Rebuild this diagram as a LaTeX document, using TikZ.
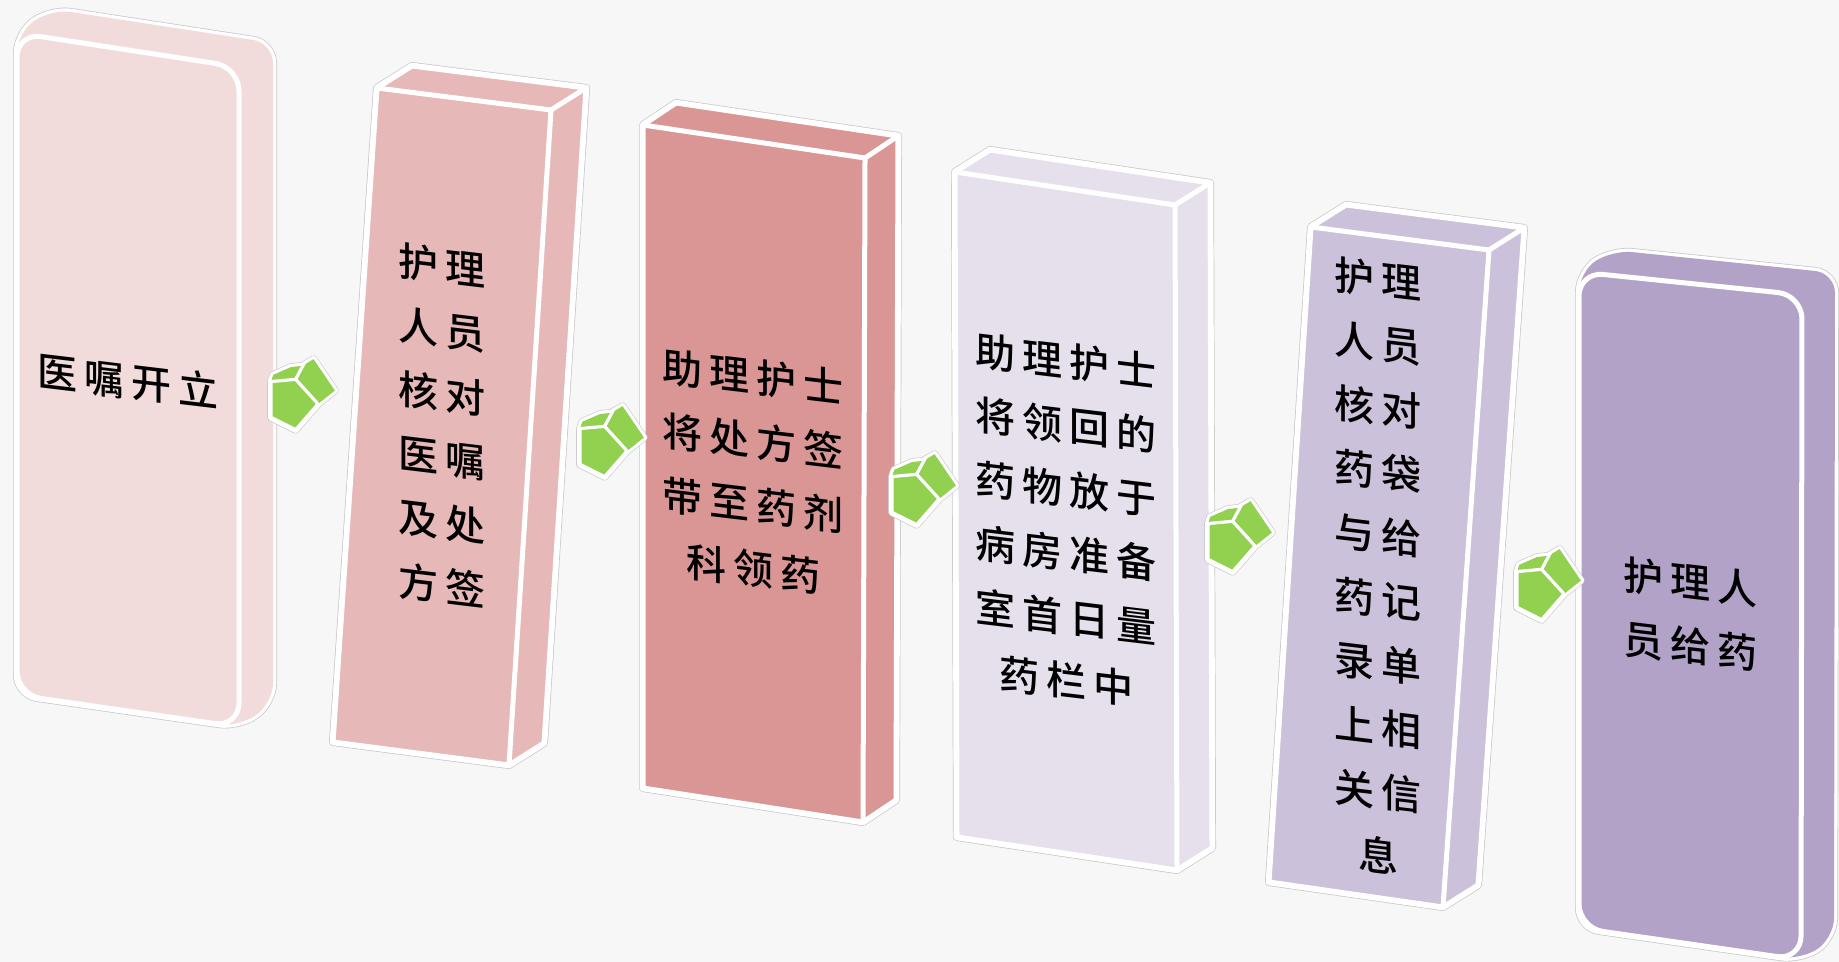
\documentclass[tikz,border=0pt]{standalone}
\usepackage{fontspec}
\usetikzlibrary{calc}
\newfontfamily\cjk{Noto Sans CJK SC Medium}
\definecolor{bg}{HTML}{F7F7F7}
\definecolor{c1}{HTML}{F2DCDB}
\definecolor{c2}{HTML}{E6B9B8}
\definecolor{c3}{HTML}{D99694}
\definecolor{c4}{HTML}{E5E0EC}
\definecolor{c5}{HTML}{CCC1DA}
\definecolor{c6}{HTML}{B3A2C7}
\definecolor{grn}{HTML}{92D050}
\newcommand\ks{\hspace{3.5pt}}
% name, colour, TL, TR, BR, BL, depth
\newcommand\pbox[7]{%
  \coordinate (#1a) at (#3); \coordinate (#1b) at (#4);
  \coordinate (#1c) at (#5); \coordinate (#1d) at (#6);
  \coordinate (#1e) at ($(#3)+(#7)$); \coordinate (#1f) at ($(#4)+(#7)$);
  \coordinate (#1g) at ($(#5)+(#7)$);
  \path[haloA] (#1a)--(#1e)--(#1f)--(#1g)--(#1c)--(#1d)--cycle;
  \path[haloB] (#1a)--(#1e)--(#1f)--(#1g)--(#1c)--(#1d)--cycle;
  \fill[#2] (#1a)--(#1e)--(#1f)--(#1g)--(#1c)--(#1d)--cycle;
  \draw[edge] (#1a)--(#1b)--(#1c)--(#1d)--cycle;
  \draw[edge] (#1a)--(#1e)--(#1f)--(#1g)--(#1c);
  \draw[edge] (#1b)--(#1f);
}
\tikzset{
  haloA/.style={draw=gray!45, line width=4pt, line join=round},
  haloB/.style={draw=white, line width=3.3pt, line join=round},
  edge/.style={draw=white, line width=2.5pt, line join=round, line cap=round},
  lbl/.style={font=\cjk\fontsize{20pt}{32pt}\selectfont, align=center,
    text=black, inner sep=0pt, yslant=-0.12},
  garrow/.pic={
    \path[draw=gray!45, line width=3.8pt, line join=round]
      (-25,-12)--(-23,-18)--(-7,-25)--(3,-26)--(13,-32)--(32,-4)--(17,8)--(-3,31)--(-25,20)--cycle;
    \path[draw=white, line width=3.2pt, line join=round]
      (-25,-12)--(-23,-18)--(-7,-25)--(3,-26)--(13,-32)--(32,-4)--(17,8)--(-3,31)--(-25,20)--cycle;
    \fill[grn]
      (-25,-12)--(-23,-18)--(-7,-25)--(3,-26)--(13,-32)--(32,-4)--(17,8)--(-3,31)--(-25,20)--cycle;
    \draw[white, line width=1.6pt, line join=round]
      (-25,-12)--(-3,-14)--(17,8)--(-3,31)--(-25,20)--cycle;
    \draw[white, line width=1.6pt] (-3,-14)--(5,-29);
  }
}
\begin{document}
\begin{tikzpicture}[x=0.5pt,y=-0.5pt]
\useasboundingbox (0,0) rectangle (1839,962);
\fill[bg] (0,0) rectangle (1839,962);

% box 1 (rounded)
\begin{scope}[rounded corners=10pt]
  \path[haloA] (17,400)--(17,33)--(51,9)--(273,43)--(273,703)--(239,727)--(17,695)--cycle;
  \path[haloB] (17,400)--(17,33)--(51,9)--(273,43)--(273,703)--(239,727)--(17,695)--cycle;
  \fill[c1] (17,400)--(17,33)--(51,9)--(273,43)--(273,703)--(239,727)--(17,695)--cycle;
\end{scope}
\draw[edge, rounded corners=12pt] (17,400)--(17,33)--(239,67)--(239,727)--(17,695)--cycle;

% boxes 2-5
\pbox{bb}{c2}{377,88}{551,110}{509,765}{333,742}{35,-22}
\pbox{bc}{c3}{643,125}{865,158}{863,822}{643,788}{33,-22}
\pbox{bd}{c4}{955,172}{1175,205}{1177,870}{957,837}{35,-22}
\pbox{be}{c5}{1311,227}{1489,250}{1443,907}{1269,882}{35,-22}

% box 6 (rounded)
\begin{scope}[rounded corners=10pt]
  \path[haloA] (1579,600)--(1579,272)--(1612,250)--(1835,273)--(1834,938)--(1801,960)--(1579,928)--cycle;
  \path[haloB] (1579,600)--(1579,272)--(1612,250)--(1835,273)--(1834,938)--(1801,960)--(1579,928)--cycle;
  \fill[c6] (1579,600)--(1579,272)--(1612,250)--(1835,273)--(1834,938)--(1801,960)--(1579,928)--cycle;
\end{scope}
\draw[edge, rounded corners=12pt] (1579,600)--(1579,272)--(1802,295)--(1801,960)--(1579,928)--cycle;

% labels
\begin{scope}[shift={(128,381)}]
  \node[lbl] (t1) at (0,0) {医\ks 嘱\ks 开\ks 立};
\end{scope}
\begin{scope}[shift={(442,426)}]
  \node[lbl] (t2) at (0,0) {护\ks 理\\人\ks 员\\核\ks 对\\医\ks 嘱\\及\ks 处\\方\ks 签};
\end{scope}
\begin{scope}[shift={(753,473)}]
  \node[lbl] (t3) at (0,0) {助\ks 理\ks 护\ks 士\\将\ks 处\ks 方\ks 签\\带\ks 至\ks 药\ks 剂\\科\ks 领\ks 药};
\end{scope}
\begin{scope}[shift={(1066,521)}]
  \node[lbl] (t4) at (0,0) {助\ks 理\ks 护\ks 士\\将\ks 领\ks 回\ks 的\\药\ks 物\ks 放\ks 于\\病\ks 房\ks 准\ks 备\\室\ks 首\ks 日\ks 量\\药\ks 栏\ks 中};
\end{scope}
\begin{scope}[shift={(1378,567)}]
  \node[lbl] (t5) at (0,0) {护\ks 理\\人\ks 员\\核\ks 对\\药\ks 袋\\与\ks 给\\药\ks 记\\录\ks 单\\上\ks 相\\关\ks 信\\息};
\end{scope}
\begin{scope}[shift={(1690,614)}]
  \node[lbl] (t6) at (0,0) {护\ks 理\ks 人\\员\ks 给\ks 药};
\end{scope}

% arrows
\pic[scale=1.12] at (299,395) {garrow};
\pic[scale=1.12] at (608,442) {garrow};
\pic[scale=1.12] at (920,490) {garrow};
\pic[scale=1.12] at (1236,537) {garrow};
\pic[scale=1.12] at (1545,585) {garrow};
\end{tikzpicture}
\end{document}
